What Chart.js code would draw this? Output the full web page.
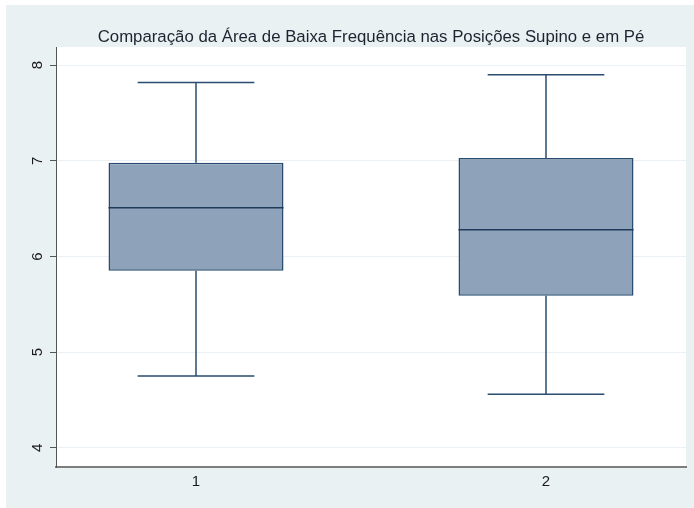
<!DOCTYPE html>
<html>
<head>
<meta charset="utf-8">
<script src="https://cdn.jsdelivr.net/npm/chart.js@4.4.1/dist/chart.umd.min.js"></script>
<style>
  html, body { margin: 0; padding: 0; background: #fff; }
  #wrap { width: 694px; height: 508px; }
</style>
</head>
<body>
<div id="wrap"><canvas id="chartBox"></canvas></div>
<script>
// summary values for each position (lower whisker, quartiles, median, upper whisker)
const groups = [1, 2];
const groupLabels = ["1", "2"];
const lowWhisker = [4.75, 4.56];
const lowerQuartile = [5.85, 5.59];
const medians = [6.51, 6.28];
const upperQuartile = [6.98, 7.03];
const highWhisker = [7.82, 7.90];
const yTicks = [4, 5, 6, 7, 8];
const titleText = "Comparação da Área de Baixa Frequência nas Posições Supino e em Pé";

const fontFamily = "'Liberation Sans', Arial, Helvetica, sans-serif";
const navy = "rgb(42, 76, 112)";

// light frame around the graph, white plot region, title on top
const backdrop = {
    id: "backdrop",
    beforeDraw(chart) {
        const { ctx, width, height, chartArea: a } = chart;
        ctx.save();
        ctx.fillStyle = "#ffffff";
        ctx.fillRect(0, 0, width, height);
        ctx.fillStyle = "#eaf1f3";
        ctx.fillRect(6, 5, width - 6, height - 5);
        ctx.fillStyle = "#ffffff";
        ctx.fillRect(a.left, a.top, a.right - a.left, a.bottom - a.top);
        ctx.restore();
    },
    afterDraw(chart) {
        const { ctx, chartArea: a } = chart;
        ctx.save();
        ctx.font = "16.8px " + fontFamily;
        ctx.fillStyle = "#1b2430";
        ctx.textAlign = "center";
        ctx.textBaseline = "alphabetic";
        ctx.fillText(titleText, (a.left + a.right) / 2, a.top - 5);
        ctx.restore();
    }
};

// whiskers, caps and median line on top of the quartile bars
const whiskers = {
    id: "whiskers",
    afterDatasetsDraw(chart) {
        const ctx = chart.ctx;
        const y = chart.scales.y;
        const bars = chart.getDatasetMeta(0).data;
        ctx.save();
        ctx.lineWidth = 1.5;
        bars.forEach((bar, i) => {
            const cx = bar.x;
            const half = bar.width / 2;
            const cap = bar.width / 3;
            const pLo = y.getPixelForValue(lowWhisker[i]);
            const pQ1 = y.getPixelForValue(lowerQuartile[i]);
            const pQ3 = y.getPixelForValue(upperQuartile[i]);
            const pHi = y.getPixelForValue(highWhisker[i]);
            const pMed = y.getPixelForValue(medians[i]);
            ctx.strokeStyle = navy;
            ctx.beginPath();
            ctx.moveTo(cx, pQ3); ctx.lineTo(cx, pHi);
            ctx.moveTo(cx - cap, pHi); ctx.lineTo(cx + cap, pHi);
            ctx.moveTo(cx, pQ1); ctx.lineTo(cx, pLo);
            ctx.moveTo(cx - cap, pLo); ctx.lineTo(cx + cap, pLo);
            ctx.stroke();
            ctx.strokeStyle = "rgb(30, 58, 90)";
            ctx.beginPath();
            ctx.moveTo(cx - half, pMed); ctx.lineTo(cx + half, pMed);
            ctx.stroke();
        });
        ctx.restore();
    }
};

const dataBox = {
    datasets: [{
        label: "Área de baixa frequência",
        data: groups.map((g, i) => ({ x: g, y: [lowerQuartile[i], upperQuartile[i]] })),
        backgroundColor: "rgb(142, 163, 186)",
        borderColor: navy,
        borderWidth: 1.5,
        borderSkipped: false,
        barPercentage: 1,
        categoryPercentage: 0.5,
    }],
};

const configBoxChart = {
    type: "bar",
    data: dataBox,
    options: {
        responsive: true,
        maintainAspectRatio: false,
        animation: false,
        layout: { padding: { top: 47, right: 8, left: 0, bottom: 0 } },
        plugins: {
            legend: { display: false },
            title: { display: false },
            tooltip: { enabled: false },
        },
        scales: {
            x: {
                type: "linear",
                min: 0.6,
                max: 2.4,
                offset: false,
                afterBuildTicks: (scale) => { scale.ticks = groups.map(v => ({ value: v })); },
                afterFit: (scale) => { scale.height = 41; },
                grid: { display: false, drawTicks: false, offset: false },
                border: { display: true, color: "#7d7d7d", width: 2 },
                ticks: {
                    padding: 6,
                    color: "#1a1a1a",
                    font: { family: fontFamily, size: 15 },
                    callback: (v) => groupLabels[groups.indexOf(v)],
                },
            },
            y: {
                type: "linear",
                min: 3.8,
                max: 8.19,
                afterBuildTicks: (scale) => { scale.ticks = yTicks.map(v => ({ value: v })); },
                afterFit: (scale) => { scale.width = 56; },
                grid: {
                    color: "#eaf0f3",
                    lineWidth: 1,
                    drawTicks: true,
                    tickLength: 6,
                    tickColor: "#555555",
                    tickWidth: 1,
                },
                border: { display: true, color: "#555555", width: 1 },
                ticks: {
                    minRotation: 90,
                    maxRotation: 90,
                    crossAlign: "center",
                    padding: 8,
                    color: "#1a1a1a",
                    font: { family: fontFamily, size: 15 },
                },
            },
        },
    },
    plugins: [backdrop, whiskers],
};

var chartBox = new Chart(
    document.getElementById("chartBox"),
    configBoxChart
);
</script>
</body>
</html>
